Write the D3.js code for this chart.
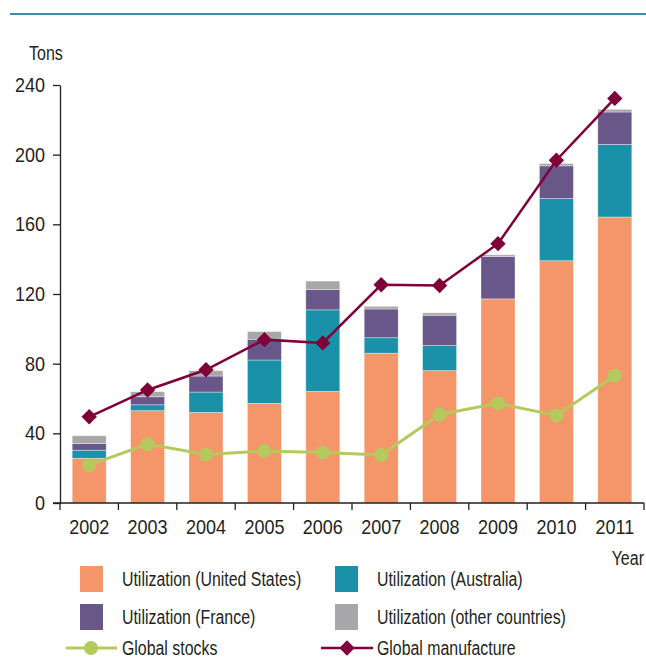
<!DOCTYPE html>
<html>
<head>
<meta charset="utf-8">
<script src="https://cdn.jsdelivr.net/npm/d3@7"></script>
<style>
  body { margin: 0; background: #fff; }
  svg { display: block; }
  text { font-family: "Liberation Sans", Arial, sans-serif; fill: #231f20; }
</style>
</head>
<body>
<script>
// Values, in tons.
const years = ["2002", "2003", "2004", "2005", "2006", "2007", "2008", "2009", "2010", "2011"];
const usUse     = [25.7, 53, 52, 57.2, 64.1, 86, 76, 117.2, 139.1, 164.2];
const ausUse    = [4.6, 3.4, 11.7, 24.9, 46.8, 8.9, 14.4, 0, 35.7, 41.7];
const franceUse = [3.8, 4.6, 9.2, 11.9, 11.7, 16.5, 17.4, 24.4, 18.8, 18.6];
const otherUse  = [4.5, 2.9, 3.1, 4.4, 4.8, 1.5, 1.4, 0.9, 1.3, 1.5];
const stocks      = [21.7, 33.8, 27.8, 29.9, 29, 27.6, 50.8, 57.2, 50.3, 73.1];
const manufacture = [49.5, 64.9, 76.5, 93.8, 91.9, 125.3, 124.9, 148.9, 196.8, 232.3];
const yTicks = [0, 40, 80, 120, 160, 200, 240];

const seriesKeys = ["us", "aus", "france", "other"];
const seriesNames = {
  us: "Utilization (United States)",
  aus: "Utilization (Australia)",
  france: "Utilization (France)",
  other: "Utilization (other countries)"
};
const colors = { us: "#f5956a", aus: "#1b91a9", france: "#6a5789", other: "#a7a7aa" };
const stockColor = "#b5c95d";
const manuColor = "#7f0038";

const width = 646, height = 672;
const fs = 20;
const svg = d3.select("body").append("svg")
  .attr("width", width).attr("height", height);

// The original type is a condensed face; none is installed, so squeeze the text sideways.
function squeeze(sel, k){
  sel.each(function(){
    let t = d3.select(this);
    let tx = +t.attr("x") || 0;
    t.attr("x", tx / k).attr("transform", `scale(${k},1)`);
  });
} // squeeze

// Thin rule across the top.
svg.append("line")
  .attr("x1", 10).attr("x2", width).attr("y1", 14).attr("y2", 14)
  .attr("stroke", "#3b8cae").attr("stroke-width", 2);

// table for the stack
let table = years.map((y, i) => ({
  year: y, us: usUse[i], aus: ausUse[i], france: franceUse[i], other: otherUse[i]
}));

const x = d3.scaleBand().domain(years).range([60, 644]).paddingInner(0.418).paddingOuter(0.209);
const y = d3.scaleLinear().domain([0, 240]).range([503, 85]);

const stack = d3.stack().keys(seriesKeys)(table);

// Bars.
svg.append("g").attr("class", "bars")
  .selectAll("g")
  .data(stack)
  .join("g")
    .attr("fill", d => colors[d.key])
  .selectAll("rect")
  .data(d => d)
  .join("rect")
    .attr("x", d => x(d.data.year))
    .attr("width", x.bandwidth())
    .attr("y", d => y(d[1]))
    .attr("height", d => y(d[0]) - y(d[1]))
    .attr("stroke", "#fff")
    .attr("stroke-opacity", 0.45)
    .attr("stroke-width", 0.8);

// Y axis.
let yAxis = svg.append("g")
  .attr("transform", "translate(60,0)")
  .call(d3.axisLeft(y).tickValues(yTicks).tickSize(7).tickSizeOuter(0).tickPadding(8));
yAxis.select(".domain").attr("stroke", "#231f20").attr("stroke-width", 1.3);
yAxis.selectAll(".tick line").attr("stroke", "#231f20").attr("stroke-width", 1.3);
yAxis.selectAll(".tick text").attr("font-size", fs).attr("fill", "#231f20")
  .call(squeeze, 0.9);

// X axis: labels under the bars, ticks on the band boundaries.
let xAxis = svg.append("g")
  .attr("transform", "translate(0,503)")
  .call(d3.axisBottom(x).tickSize(0).tickPadding(17));
xAxis.select(".domain").remove();
xAxis.selectAll(".tick text").attr("font-size", fs).attr("fill", "#231f20")
  .call(squeeze, 0.9);
svg.selectAll(".tick text").attr("font-family", "Liberation Sans, Arial, sans-serif");

const step = x.step();
const bounds = years.map(yr => x(yr) - step * x.paddingInner() / 2);
bounds.push(x(years[years.length - 1]) + x.bandwidth() + step * x.paddingInner() / 2);

svg.append("line")
  .attr("x1", 53).attr("x2", bounds[bounds.length - 1])
  .attr("y1", 503).attr("y2", 503)
  .attr("stroke", "#231f20").attr("stroke-width", 1.3);
svg.append("g").selectAll("line")
  .data(bounds)
  .join("line")
    .attr("x1", d => d).attr("x2", d => d)
    .attr("y1", 503).attr("y2", 510)
    .attr("stroke", "#231f20").attr("stroke-width", 1.3);

// Axis titles.
let titles = svg.append("g");
titles.append("text").attr("x", 29).attr("y", 60).attr("font-size", fs).text("Tons");
titles.append("text").attr("x", 644).attr("y", 565).attr("text-anchor", "end").attr("font-size", fs).text("Year");
titles.selectAll("text").call(squeeze, 0.8);

// Lines.
const cx = i => x(years[i]) + x.bandwidth() / 2;
const line = d3.line().x((d, i) => cx(i)).y(d => y(d));

svg.append("path")
  .datum(stocks)
  .attr("d", line)
  .attr("fill", "none")
  .attr("stroke", stockColor)
  .attr("stroke-width", 3);
svg.append("g").selectAll("circle")
  .data(stocks)
  .join("circle")
    .attr("cx", (d, i) => cx(i))
    .attr("cy", d => y(d))
    .attr("r", 7)
    .attr("fill", stockColor);

svg.append("path")
  .datum(manufacture)
  .attr("d", line)
  .attr("fill", "none")
  .attr("stroke", manuColor)
  .attr("stroke-width", 2.5);
const diamond = d3.symbol().type(d3.symbolDiamond2).size(150);
svg.append("g").selectAll("path")
  .data(manufacture)
  .join("path")
    .attr("transform", (d, i) => `translate(${cx(i)},${y(d)})`)
    .attr("d", diamond)
    .attr("fill", manuColor);

// Legend.
const legendItems = [
  { key: "us", col: 0, row: 0 },
  { key: "aus", col: 1, row: 0 },
  { key: "france", col: 0, row: 1 },
  { key: "other", col: 1, row: 1 }
];
const colX = [80, 335];
const rowY = [579, 617];

const lg = svg.append("g").attr("class", "legend");
legendItems.forEach(it => {
  lg.append("rect")
    .attr("x", colX[it.col]).attr("y", rowY[it.row] - 13)
    .attr("width", 23).attr("height", 26)
    .attr("fill", colors[it.key]);
  lg.append("text")
    .attr("x", colX[it.col] + 42).attr("y", rowY[it.row])
    .attr("dy", "0.35em").attr("font-size", fs)
    .text(seriesNames[it.key]);
});

// line entries
let ly = 648;
lg.append("line").attr("x1", 66).attr("x2", 117).attr("y1", ly).attr("y2", ly)
  .attr("stroke", stockColor).attr("stroke-width", 3);
lg.append("circle").attr("cx", 91).attr("cy", ly).attr("r", 7).attr("fill", stockColor);
lg.append("text").attr("x", 122).attr("y", ly).attr("dy", "0.35em").attr("font-size", fs).text("Global stocks");

lg.append("line").attr("x1", 321).attr("x2", 373).attr("y1", ly).attr("y2", ly)
  .attr("stroke", manuColor).attr("stroke-width", 2.5);
lg.append("path").attr("transform", `translate(347,${ly})`).attr("d", diamond).attr("fill", manuColor);
lg.append("text").attr("x", 377).attr("y", ly).attr("dy", "0.35em").attr("font-size", fs).text("Global manufacture");

lg.selectAll("text").call(squeeze, 0.795);
</script>
</body>
</html>
